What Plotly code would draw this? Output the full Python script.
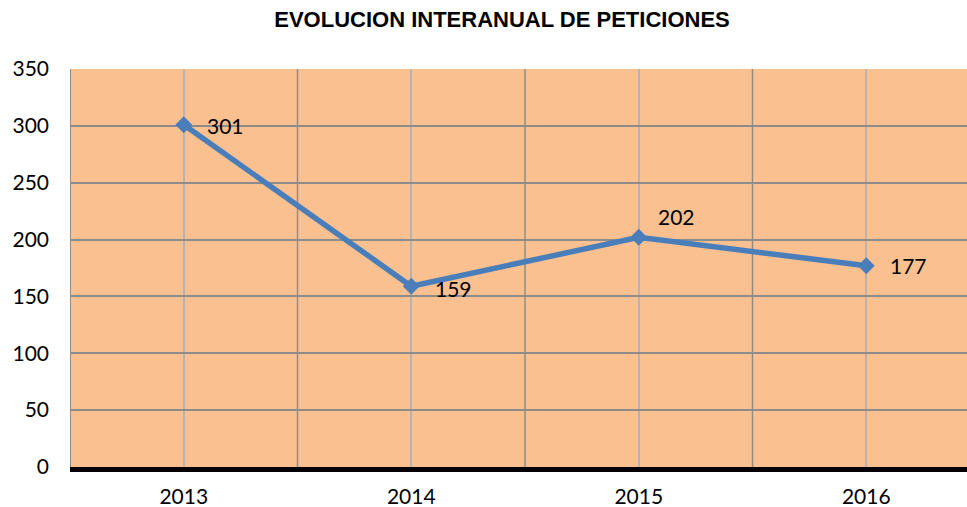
import plotly.graph_objects as go

# Annual request counts
years = ["2013", "2014", "2015", "2016"]
peticiones = [301, 159, 202, 177]

# Per-label nudges (pixels) for the value labels
label_dx = [21, 22, 17, 22]
label_dy = [-1, -2, 21, 0]

title_text = "EVOLUCION INTERANUAL DE PETICIONES"

W, H = 967, 507
LINE_BLUE = "#4A7EBB"
BG_ORANGE = "#FAC090"
GRID_DARK = "#8C8C8C"
GRID_LIGHT = "#B4B4B4"
LABEL_FONT = dict(family="Lato, Open Sans, sans-serif", size=21, color="#000000")

fig = go.Figure()

fig.add_trace(go.Scatter(
    x=years,
    y=peticiones,
    mode="lines+markers",
    line=dict(color=LINE_BLUE, width=5.5),
    marker=dict(symbol="diamond", size=13, color=LINE_BLUE),
    hoverinfo="x+y",
    showlegend=False,
))

# Value labels to the right of each point (category axis -> use category index)
for i, (v, dx, dy) in enumerate(zip(peticiones, label_dx, label_dy)):
    fig.add_annotation(
        x=i, y=v, xref="x", yref="y", text=str(v), showarrow=False,
        xanchor="left", yanchor="middle",
        xshift=dx, yshift=dy, font=LABEL_FONT,
    )

# Darker vertical lines on the category boundaries
for i in range(len(years)):
    fig.add_shape(
        type="line", xref="x", yref="paper",
        x0=i - 0.5, x1=i - 0.5, y0=0, y1=1,
        line=dict(color=GRID_DARK, width=2 if i == 0 else 1.5),
        layer="below",
    )

fig.update_layout(
    width=W, height=H,
    margin=dict(l=70, r=0, t=69, b=40),
    paper_bgcolor="#FFFFFF",
    plot_bgcolor=BG_ORANGE,
    title=dict(
        text=title_text,
        font=dict(family="Liberation Sans, Arial, sans-serif", size=22,
                  color="#000000", weight="bold"),
        xref="container", yref="container",
        x=502 / W, xanchor="center",
        y=1 - 19 / H, yanchor="middle",
    ),
    xaxis=dict(
        type="category",
        range=[-0.5, len(years) - 0.5 - 13 / 227.5],
        showgrid=True, gridcolor=GRID_LIGHT, gridwidth=1.5,
        showline=True, linecolor="#000000", linewidth=5,
        ticks="", ticklabelstandoff=7,
        tickfont=LABEL_FONT,
        automargin=False,
        fixedrange=True,
    ),
    yaxis=dict(
        range=[0, 350], dtick=50,
        showgrid=True, gridcolor=GRID_DARK, gridwidth=1.5,
        zeroline=False, showline=False,
        ticks="", ticklabelstandoff=20,
        tickfont=LABEL_FONT,
        automargin=False,
        fixedrange=True,
    ),
)

fig.write_html("out.html")
